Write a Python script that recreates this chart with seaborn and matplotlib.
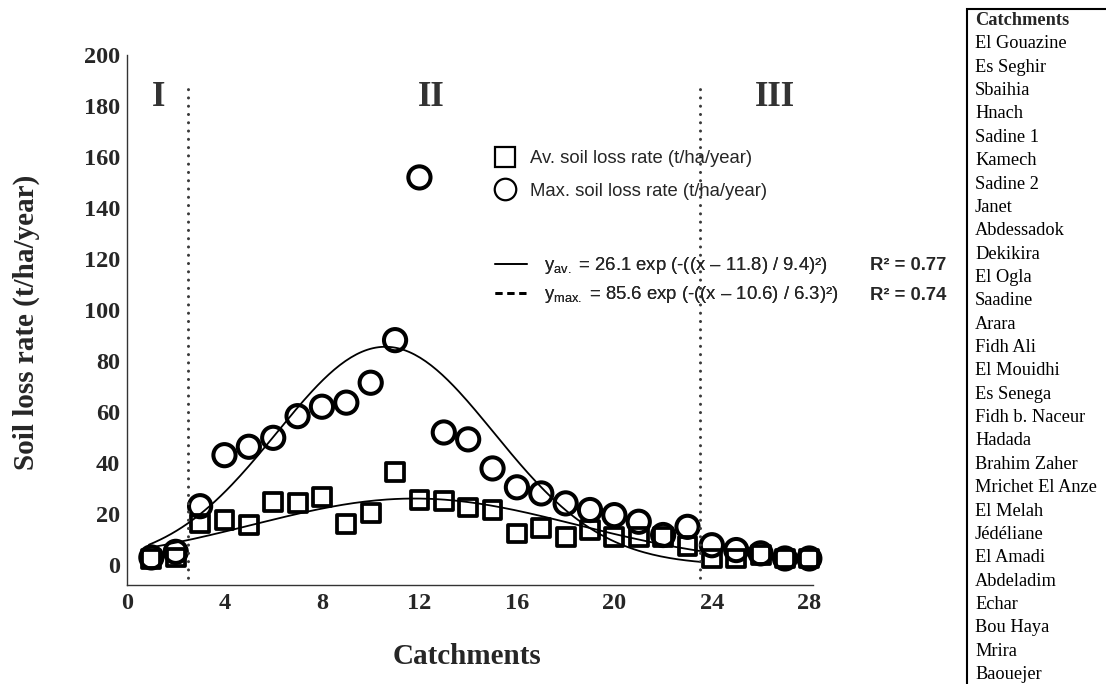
import numpy as np
import pandas as pd
import matplotlib
matplotlib.use("Agg")
import matplotlib.pyplot as plt
from matplotlib.lines import Line2D
from matplotlib.patches import Rectangle
import seaborn as sns

# ---------------- data ----------------
catchment_no = list(range(1, 29))
catchment_names = ["El Gouazine", "Es Seghir", "Sbaihia", "Hnach", "Sadine 1", "Kamech",
                   "Sadine 2", "Janet", "Abdessadok", "Dekikira", "El Ogla", "Saadine",
                   "Arara", "Fidh Ali", "El Mouidhi", "Es Senega", "Fidh b. Naceur",
                   "Hadada", "Brahim Zaher", "Mrichet El Anze", "El Melah", "Jédéliane",
                   "El Amadi", "Abdeladim", "Echar", "Bou Haya", "Mrira", "Baouejer"]
av_rate = [2.5, 3.0, 16.3, 17.6, 15.7, 24.8, 24.2, 26.8, 16.0, 20.5, 36.6, 25.5, 25.0, 22.6,
           21.5, 12.4, 14.4, 11.1, 13.7, 11.0, 11.0, 11.0, 7.5, 2.6, 2.6, 4.0, 2.6, 2.6]
max_rate = [3.0, 5.2, 23.1, 43.1, 46.4, 49.9, 58.4, 62.1, 63.7, 71.5, 88.2, 152.0, 52.0, 49.3,
            37.9, 30.5, 28.1, 24.2, 21.6, 19.6, 17.0, 11.8, 15.0, 7.8, 5.9, 4.6, 2.6, 2.6]
# fitted gaussian parameters (a, b, c) as given in the chart: y = a exp(-((x-b)/c)^2)
fit_av = (26.1, 11.8, 9.4)
fit_max = (85.6, 10.6, 6.3)
r2_av, r2_max = 0.77, 0.74
zone_bounds = [2.5, 23.5]
zone_labels = ["I", "II", "III"]
zone_label_x = [1.3, 12.5, 26.6]
x_ticks = [0, 4, 8, 12, 16, 20, 24, 28]
y_ticks = list(range(0, 201, 20))

# ---------------- style ----------------
sns.set_style("white")
plt.rcParams["font.family"] = ["Liberation Serif", "DejaVu Serif"]
plt.rcParams["mathtext.fontset"] = "custom"
plt.rcParams["mathtext.rm"] = "Liberation Sans"
plt.rcParams["mathtext.it"] = "Liberation Sans:italic"
plt.rcParams["mathtext.bf"] = "Liberation Sans:bold"

W, H = 1106, 684
fig = plt.figure(figsize=(W / 100, H / 100), dpi=100)
ax = fig.add_axes([127 / W, 1 - 585 / H, (813 - 127) / W, 530 / H])

df = pd.DataFrame({"catchment": catchment_no, "av": av_rate, "max": max_rate})

# fitted curves
xs = np.linspace(0.9, 23.5, 200)
def gauss(x, p):
    a, b, c = p
    return a * np.exp(-((x - b) / c) ** 2)
curves = pd.DataFrame({"x": xs, "yav": gauss(xs, fit_av), "ymax": gauss(xs, fit_max)})
sns.lineplot(data=curves, x="x", y="yav", ax=ax, color="black", lw=1.3, zorder=2)
sns.lineplot(data=curves, x="x", y="ymax", ax=ax, color="black", lw=1.3, zorder=2)

sns.scatterplot(data=df, x="catchment", y="max", ax=ax, marker="o", s=255,
                facecolor="none", edgecolor="black", linewidth=2.9, zorder=3)
sns.scatterplot(data=df, x="catchment", y="av", ax=ax, marker="s", s=165,
                facecolor="none", edgecolor="black", linewidth=2.7, zorder=4)
for coll in ax.collections:
    coll.set_clip_on(False)

# zone separators
for xb in zone_bounds:
    ax.plot([xb, xb], [-8, 187], color="#3a3a3a", lw=2.2,
            linestyle=(0, (0.01, 2.7)), dash_capstyle="round", zorder=5)
for lab, lx in zip(zone_labels, zone_label_x):
    ax.text(lx, 183.5, lab, ha="center", va="center", fontsize=25,
            fontweight="bold", color="#333333")

ax.set_xlim(0, 28.15)
ax.set_ylim(-7.8, 200)
ax.set_xticks(x_ticks)
ax.set_yticks(y_ticks)
ax.set_xlabel("")
ax.set_ylabel("")
for s in ["top", "right"]:
    ax.spines[s].set_visible(False)
for s in ["left", "bottom"]:
    ax.spines[s].set_color("#333333")
    ax.spines[s].set_linewidth(1.0)
ax.tick_params(axis="x", direction="in", length=6, width=1, color="#333333",
               labelsize=17.5, pad=6)
ax.tick_params(axis="y", direction="out", length=4.5, width=1, color="#333333",
               labelsize=17.5, pad=0.5)
for lbl in ax.get_xticklabels() + ax.get_yticklabels():
    lbl.set_fontweight("bold")

fig.text(26 / W, 1 - 322 / H, "Soil loss rate (t/ha/year)", rotation=90,
         ha="center", va="center", fontsize=21, fontweight="bold")
fig.text(467 / W, 1 - 656 / H, "Catchments", ha="center", va="center",
         fontsize=21, fontweight="bold")

# legends
sans = ["Liberation Sans", "DejaVu Sans"]
h1 = [Line2D([], [], marker="s", ls="none", mfc="none", mec="black", ms=14.5, mew=1.6),
      Line2D([], [], marker="o", ls="none", mfc="none", mec="black", ms=15.5, mew=1.6)]
leg1 = ax.legend(h1, ["Av. soil loss rate (t/ha/year)", "Max. soil loss rate (t/ha/year)"],
                 loc="upper left", bbox_to_anchor=(494 / W, 1 - 150 / H),
                 bbox_transform=fig.transFigure, frameon=False,
                 prop={"family": sans, "size": 13.3}, handletextpad=0.75,
                 labelspacing=0.85, borderaxespad=0, borderpad=0, handlelength=1.2)
ax.add_artist(leg1)
h2 = [Line2D([], [], color="black", lw=1.2, ls="-"),
      Line2D([], [], color="black", lw=2.0, ls=(0, (2.5, 1.8)))]
lab2 = [r"$\mathrm{y_{av.}}$ = " + f"{fit_av[0]} exp (-((x – {fit_av[1]}) / {fit_av[2]})²)",
        r"$\mathrm{y_{max.}}$ = " + f"{fit_max[0]} exp (-((x – {fit_max[1]}) / {fit_max[2]})²)"]
leg2 = ax.legend(h2, lab2, loc="upper left", bbox_to_anchor=(495 / W, 1 - 255 / H),
                 bbox_transform=fig.transFigure, frameon=False,
                 prop={"family": sans, "size": 13.3}, handletextpad=0.9,
                 labelspacing=0.45, borderaxespad=0, borderpad=0, handlelength=1.75)
ax.add_artist(leg2)
fig.text(870 / W, 1 - 266 / H, f"R² = {r2_av}", ha="left", va="center",
         family=sans, fontsize=13.3, fontweight="bold")
fig.text(870 / W, 1 - 296 / H, f"R² = {r2_max}", ha="left", va="center",
         family=sans, fontsize=13.3, fontweight="bold")

# catchment name panel
fig.patches.append(Rectangle((967 / W, -0.1), 0.5, 1.1 - 9 / H, transform=fig.transFigure,
                             fill=False, ec="black", lw=1.5))
first_base, step = 25.0, 23.36
fig.text(975 / W, 1 - first_base / H, "Catchments", ha="left", va="baseline",
         fontsize=13.2, fontweight="bold")
for i, name in enumerate(catchment_names):
    fig.text(975 / W, 1 - (first_base + step * (i + 1)) / H, name, ha="left",
             va="baseline", fontsize=13.2, color="black")

fig.savefig("out.png", dpi=100)
